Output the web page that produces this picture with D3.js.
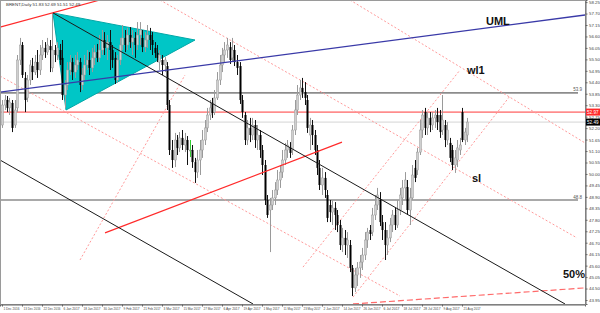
<!DOCTYPE html>
<html>
<head>
<meta charset="utf-8">
<script src="https://cdn.jsdelivr.net/npm/d3@7"></script>
<style>
  html, body { margin: 0; padding: 0; background: #fff; }
  svg { display: block; font-family: "Liberation Sans", Arial, sans-serif; }
</style>
</head>
<body>
<div id="viz"></div>
<script>
// BRENT daily, 1 Dec 2016 .. Aug 2017
var opens = [52.35,53.31,53.55,53.17,53.41,52.35,53.17,55.47,56.19,54.61,53.65,54.51,55.18,54.89,55.37,54.99,55.71,56.05,55.85,56.14,
  55.09,55.95,55.71,55.95,55.57,53.79,54.27,54.99,55.37,54.89,55.23,55.37,54.27,54.75,55.23,55.47,55.09,55.57,55.85,55.57,
  55.95,56.43,56.05,56.33,55.95,55.57,54.51,55.47,56.19,56.53,56.19,56.67,56.33,56.53,56.19,56.67,56.53,56.09,56.43,56.67,
  56.43,56.05,55.81,55.37,55.47,55.23,55.18,53.31,51.15,50.67,51.63,51.25,51.73,51.39,51.63,51.15,51.15,50.57,50.09,50.67,
  51.15,51.63,52.21,52.83,53.41,52.97,53.65,54.51,55.23,55.71,55.95,56.09,55.57,55.95,55.37,55.18,53.55,52.83,51.63,52.21,
  51.87,52.35,51.63,51.87,51.15,50.43,48.75,48.27,48.51,48.85,49.23,49.71,50.09,50.67,51.15,51.29,51.15,52.11,53.07,53.79,
  54.13,53.93,53.55,51.87,52.35,51.87,51.15,50.29,49.47,49.81,48.99,48.51,48.17,48.37,48.03,47.55,46.59,46.93,46.59,46.59,
  45.49,44.53,45.15,45.49,45.77,46.11,46.83,47.31,47.21,48.03,48.51,48.75,47.69,47.31,46.59,46.93,47.55,48.03,47.55,48.27,
  48.85,49.33,49.37,48.27,48.85,50.29,50.19,51.05,52.11,52.97,52.21,52.69,52.35,52.69,52.83,52.83,52.11,52.35,51.63,51.49,
  51.15,50.43,50.67,51.15,52.97,51.63,51.87];
var highs = [53.55,53.79,53.74,53.65,53.55,53.55,55.71,56.53,56.33,54.89,54.75,55.47,55.57,55.71,55.95,56.19,56.43,56.33,56.53,56.43,
  57.73,56.19,56.33,56.24,56.43,54.51,55.37,55.71,55.57,55.71,55.85,55.57,55.09,55.71,55.95,55.85,56.05,56.19,56.24,56.67,
  56.91,56.81,56.67,56.91,56.19,55.85,55.71,56.53,57.15,56.91,57.01,57.05,56.91,56.81,57.29,57.29,56.91,56.81,57.15,57.01,
  56.81,56.33,56.19,55.95,55.71,55.61,55.37,53.55,51.63,51.97,51.87,52.01,52.11,51.97,51.82,51.63,51.39,50.77,51.15,51.63,
  52.11,52.59,53.17,53.55,53.65,54.03,54.89,55.71,56.05,56.33,56.53,56.33,56.53,56.19,55.71,55.37,53.79,52.97,52.59,52.69,
  52.69,52.59,52.35,52.11,51.39,50.67,48.99,48.85,49.23,49.61,50.19,50.43,51.15,51.49,51.63,51.53,52.35,53.55,54.27,54.51,
  54.61,54.41,53.79,52.69,52.59,52.11,51.39,50.67,50.29,50.09,49.23,48.75,48.75,48.65,48.27,47.79,47.41,47.31,47.21,46.83,
  45.63,45.49,45.77,46.11,46.45,47.21,47.41,47.55,48.37,48.99,49.33,49.13,48.03,47.69,47.31,47.89,48.27,48.37,48.75,49.33,
  49.71,50.09,49.71,49.33,50.43,50.67,51.25,52.59,53.07,53.17,52.97,52.97,52.97,53.07,53.17,53.07,53.79,52.59,52.49,51.73,
  51.39,51.15,51.63,51.73,53.17,52.21,52.69];
var lows = [52.21,53.07,52.97,52.83,52.01,52.21,52.97,55.23,54.61,52.97,53.45,54.27,54.51,54.75,54.61,54.75,55.47,55.57,55.71,54.89,
  54.89,55.37,55.47,55.23,53.55,53.17,54.03,54.75,54.51,54.61,54.99,53.93,54.03,54.51,54.99,54.75,54.89,55.23,55.37,55.37,
  55.71,55.71,55.47,54.99,55.09,54.32,54.37,55.23,55.95,55.85,55.95,56.05,55.71,55.57,55.95,56.19,55.85,55.85,56.05,55.95,
  55.71,55.57,55.37,54.99,54.75,54.89,53.07,50.91,50.29,50.33,50.91,51.05,51.15,51.05,50.43,50.81,50.29,49.57,49.81,49.95,
  50.77,51.39,52.01,52.59,52.69,52.83,53.55,54.27,54.89,55.37,55.57,55.28,55.37,55.18,54.75,53.36,52.69,51.39,51.39,51.53,
  51.63,51.25,51.15,50.77,49.95,48.51,47.89,46.25,48.27,48.51,48.99,49.33,49.81,50.43,50.77,50.77,50.91,51.87,52.83,53.55,
  53.65,53.31,51.97,51.15,51.39,50.91,49.95,49.23,48.99,48.85,47.69,47.69,47.55,47.31,47.21,46.35,46.25,46.11,45.97,45.29,
  44.14,44.33,44.62,45.01,45.39,45.87,46.45,46.83,47.02,47.79,48.27,47.50,46.83,45.87,46.11,46.73,47.21,47.31,47.41,48.03,
  48.51,48.75,48.03,47.55,48.75,49.61,49.95,50.91,51.73,51.87,51.87,52.01,52.11,52.21,52.11,51.73,51.87,51.29,51.39,50.57,
  50.19,50.05,50.33,50.91,51.53,51.39,51.53];
var closes = [53.31,53.55,53.17,53.45,52.21,53.07,55.47,56.19,54.75,53.55,54.51,55.23,54.89,55.37,54.99,55.71,56.05,55.85,56.19,55.95,
  55.95,55.71,56.05,55.47,53.79,54.27,54.99,55.37,54.89,55.23,55.47,54.27,54.75,55.23,55.47,55.09,55.57,55.85,55.57,55.95,
  56.43,56.05,56.33,55.95,55.47,54.51,55.47,56.19,56.53,56.19,56.67,56.33,56.53,56.19,56.67,56.91,56.09,56.43,56.67,56.43,
  56.19,55.81,55.57,55.71,55.23,55.47,53.31,51.15,50.67,51.63,51.25,51.73,51.39,51.63,51.15,51.15,50.57,50.09,50.67,51.15,
  51.63,52.21,52.83,53.17,52.93,53.65,54.51,55.23,55.71,55.95,56.19,55.47,55.95,55.37,55.09,53.55,52.97,51.63,52.21,51.87,
  52.35,51.63,51.87,51.15,50.43,48.75,48.03,48.51,48.85,49.23,49.71,50.09,50.67,51.15,51.39,51.01,52.11,53.07,53.79,54.13,
  53.93,53.65,52.21,52.35,51.87,51.15,50.29,49.47,49.81,49.23,47.89,48.17,48.37,48.03,47.55,46.59,46.93,46.59,46.83,45.49,
  44.53,45.15,45.49,45.77,46.11,46.83,47.21,47.12,48.03,48.51,48.99,47.69,47.31,46.59,46.93,47.55,48.03,47.55,48.27,48.99,
  49.33,49.71,48.27,48.85,49.95,49.81,51.05,52.11,52.83,52.21,52.69,52.35,52.69,52.83,52.49,52.01,52.59,51.63,52.11,50.77,
  50.43,50.77,51.25,51.39,51.63,52.01,52.49];

var dateTicks = [0, 8, 16, 24, 32, 40, 48, 56, 64, 72, 80, 88, 96, 104, 112, 120, 128, 136, 144, 152, 160, 168, 176, 184];
var dateLabels = ["1 Dec 2016","13 Dec 2016","22 Dec 2016","6 Jan 2017","18 Jan 2017","30 Jan 2017","9 Feb 2017","21 Feb 2017",
  "3 Mar 2017","15 Mar 2017","27 Mar 2017","6 Apr 2017","19 Apr 2017","1 May 2017","11 May 2017","23 May 2017","2 Jun 2017",
  "14 Jun 2017","26 Jun 2017","6 Jul 2017","18 Jul 2017","28 Jul 2017","9 Aug 2017","21 Aug 2017"];
var priceTicks = [58.25,57.70,57.15,56.60,56.05,55.50,54.95,54.40,53.85,53.30,52.75,52.20,51.65,51.10,50.55,50.00,
  49.45,48.90,48.35,47.80,47.25,46.70,46.15,45.60,45.05,44.50,43.95];

// drawn objects, [bar index, price]
var triangle = [[20.4, 57.73], [25.6, 53.07], [77.2, 56.43]];
var redTop = [[-0.8, 57.05], [39.2, 58.35]];
var uml = [[-0.8, 53.93], [233.2, 57.63]];
var blackUpper = [[20.4, 57.73], [225.2, 43.76]];
var blackLower = [[-0.8, 50.67], [100.4, 43.76]];
var redMid = [[41.2, 47.17], [136, 51.53]];
var pinkA = [[63.2, 58.35], [230, 46.93]];
var pinkB = [[-0.8, 54.70], [159.2, 44.14]];
var pinkC = [[139.2, 58.35], [233.2, 51.49]];
var pinkR1 = [[120.4, 45.53], [183.2, 54.99]];
var pinkR2 = [[140.4, 44.09], [203.2, 53.74]];
var pinkR3 = [[31.2, 45.87], [73.2, 54.75]];
var fiftyPct = [[140.4, 43.76], [233.2, 44.53]];
var greyLevels = [53.89, 48.75];
var redLevel = 52.97;
var lastPrice = 52.49;
var notes = [["UML", 193.6, 57.15], ["wl1", 186, 54.80], ["sl", 188, 49.61], ["50%", 224.4, 45.01]];

var width = 600, height = 313,
    plotW = 585, plotH = 304;

var x = d3.scaleLinear().domain([-0.8, 233.2]).range([0, plotW]);
var y = d3.scaleLinear().domain([43.758, 58.35]).range([plotH, 0]);

var svg = d3.select("#viz").append("svg")
  .attr("width", width)
  .attr("height", height);

svg.append("clipPath").attr("id", "plot")
  .append("rect").attr("x", 0).attr("y", 0).attr("width", plotW).attr("height", plotH);

var plot = svg.append("g").attr("clip-path", "url(#plot)");
var line = d3.line().x(function(d) { return x(d[0]); }).y(function(d) { return y(d[1]); });

// horizontal levels
plot.selectAll(".lvl").data(greyLevels).enter().append("line")
  .attr("x1", 0).attr("x2", plotW - 7)
  .attr("y1", function(d) { return y(d); }).attr("y2", function(d) { return y(d); })
  .attr("stroke", "#8c8c8c").attr("stroke-width", 1.6);
plot.append("line")
  .attr("x1", 0).attr("x2", plotW).attr("y1", y(lastPrice)).attr("y2", y(lastPrice))
  .attr("stroke", "#d4d4d4").attr("stroke-width", 1);
plot.append("line")
  .attr("x1", 0).attr("x2", plotW).attr("y1", y(redLevel)).attr("y2", y(redLevel))
  .attr("stroke", "#ff3a3a").attr("stroke-width", 1);

// triangle
plot.append("path")
  .attr("d", line(triangle) + "Z")
  .attr("fill", "#00c6c6").attr("stroke", "#00a8a8").attr("stroke-width", 1);

// dotted fan lines
[pinkA, pinkB, pinkC, pinkR1, pinkR2, pinkR3].forEach(function(l) {
  plot.append("path").attr("d", line(l))
    .attr("stroke", "#ff9a9a").attr("stroke-width", 1).attr("stroke-dasharray", "2,2").attr("fill", "none");
});
plot.append("path").attr("d", line(fiftyPct))
  .attr("stroke", "#ff6a6a").attr("stroke-width", 1.2).attr("stroke-dasharray", "6,3").attr("fill", "none");

// candles
var bars = plot.selectAll(".bar").data(d3.range(opens.length)).enter().append("g");
bars.append("line")
  .attr("x1", function(i) { return Math.round(x(i)) + 0.5; })
  .attr("x2", function(i) { return Math.round(x(i)) + 0.5; })
  .attr("y1", function(i) { return y(highs[i]); })
  .attr("y2", function(i) { return y(lows[i]); })
  .attr("stroke", function(i) {
    if (opens[i] === closes[i]) return "#33cc33";
    return closes[i] < opens[i] ? "#111" : "#9a9a9a";
  })
  .attr("stroke-width", 1);
bars.append("rect")
  .attr("x", function(i) { return Math.round(x(i)) - 0.5; })
  .attr("width", 2)
  .attr("y", function(i) { return y(Math.max(opens[i], closes[i])); })
  .attr("height", function(i) { return Math.max(1, Math.abs(y(opens[i]) - y(closes[i]))); })
  .attr("fill", function(i) {
    if (opens[i] === closes[i]) return "#33cc33";
    return closes[i] < opens[i] ? "#000" : "#cfcfcf";
  })
  .attr("stroke", function(i) { return closes[i] < opens[i] ? "none" : "#9a9a9a"; })
  .attr("stroke-width", 0.5);

// trend lines
plot.append("path").attr("d", line(redTop)).attr("stroke", "#ff2a2a").attr("stroke-width", 1.2).attr("fill", "none");
plot.append("path").attr("d", line(redMid)).attr("stroke", "#ff2a2a").attr("stroke-width", 1.2).attr("fill", "none");
plot.append("path").attr("d", line(uml)).attr("stroke", "#3a3aa8").attr("stroke-width", 1.4).attr("fill", "none");
[blackUpper, blackLower].forEach(function(l) {
  plot.append("path").attr("d", line(l)).attr("stroke", "#1a1a1a").attr("stroke-width", 1).attr("fill", "none");
});

// level captions
plot.selectAll(".lvltxt").data(greyLevels).enter().append("text")
  .attr("x", plotW - 3).attr("y", function(d) { return y(d) - 1.5; })
  .attr("text-anchor", "end").attr("font-size", 4.5).attr("fill", "#555")
  .text(function(d) { return d.toFixed(1); });

// notes
svg.selectAll(".note").data(notes).enter().append("text")
  .attr("x", function(d) { return x(d[1]); })
  .attr("y", function(d) { return y(d[2]); })
  .attr("font-size", function(d) { return d[0] === "UML" ? 11 : 11; })
  .attr("font-weight", "bold").attr("fill", "#111")
  .text(function(d) { return d[0]; });

// frame
svg.append("rect").attr("x", 0.5).attr("y", 0.5).attr("width", plotW).attr("height", plotH)
  .attr("fill", "none").attr("stroke", "#9a9a9a").attr("stroke-width", 1);

// axes
var yAxis = d3.axisRight(y).tickValues(priceTicks).tickSize(2).tickPadding(1.5)
  .tickFormat(function(d) { return d.toFixed(2); });
var gy = svg.append("g").attr("transform", "translate(" + (plotW + 0.5) + ",0)").call(yAxis);
gy.select(".domain").attr("stroke", "#666");
gy.selectAll("line").attr("stroke", "#666");
gy.selectAll("text").attr("font-size", 4.4).attr("fill", "#444");

var xAxis = d3.axisBottom(x).tickValues(dateTicks).tickSize(2).tickPadding(0.5)
  .tickFormat(function(d, i) { return dateLabels[i]; });
var gx = svg.append("g").attr("transform", "translate(0," + (plotH + 0.5) + ")").call(xAxis);
gx.select(".domain").attr("stroke", "#666");
gx.selectAll("line").attr("stroke", "#666");
gx.selectAll("text").attr("font-size", 3.6).attr("fill", "#444").attr("text-anchor", "start").attr("dx", 1)
  .attr("textLength", function(d, i) { return Math.min(17, dateLabels[i].length * 1.6); })
  .attr("lengthAdjust", "spacingAndGlyphs");

// price tags on the right axis
[[redLevel, "#ff2a2a"], [lastPrice, "#000"]].forEach(function(t) {
  svg.append("rect").attr("x", plotW + 1).attr("y", y(t[0]) - 3.5).attr("width", 14).attr("height", 7).attr("fill", t[1]);
  svg.append("text").attr("x", plotW + 2).attr("y", y(t[0]) + 1.8)
    .attr("font-size", 4.6).attr("fill", "#fff").text(t[0].toFixed(2));
});

// header
svg.append("text").attr("x", 6).attr("y", 6).attr("font-size", 4.4).attr("fill", "#333")
  .text("BRENT,Daily  51.83 52.69 51.51 52.49");
</script>
</body>
</html>
